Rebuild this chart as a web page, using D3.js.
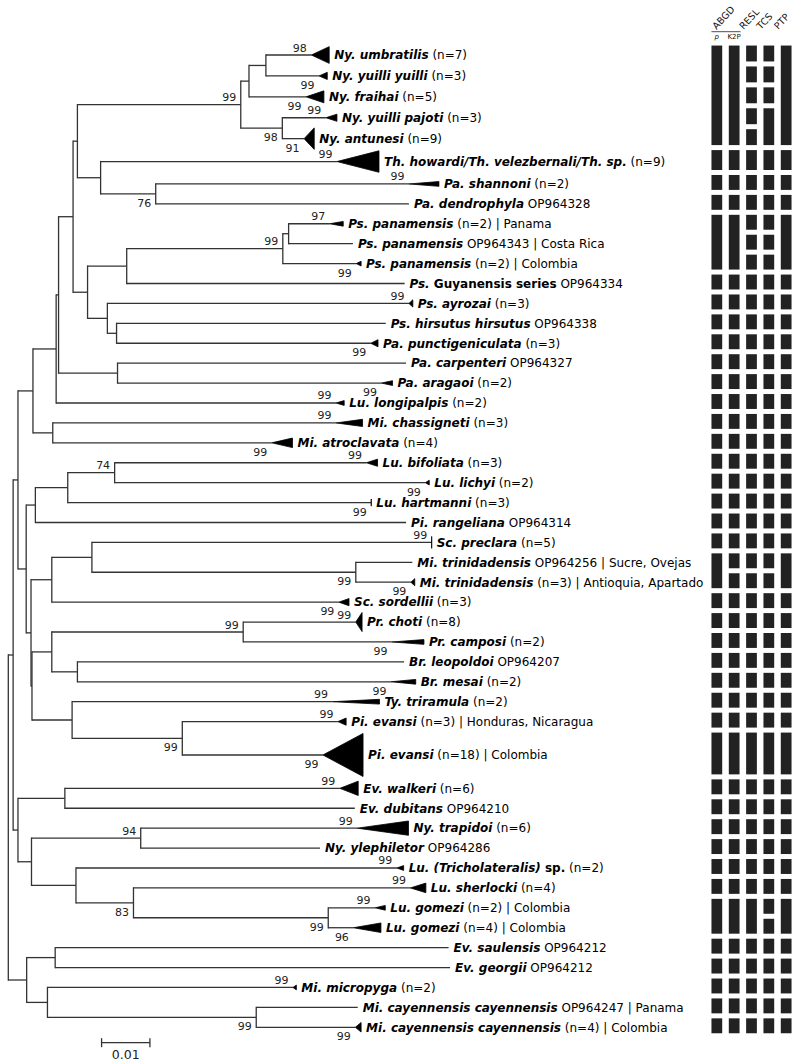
<!DOCTYPE html>
<html><head><meta charset="utf-8">
<script src="https://cdn.jsdelivr.net/npm/d3@7"></script>
<style>
body{margin:0;background:#fff}
svg{display:block;font-family:"DejaVu Sans",Verdana,sans-serif}
text{white-space:pre}
</style>
</head><body>
<script>
// ================= DATA =================
const tipIds = d3.range(1, 49).map(i => "t" + i);

// bold-italic part of each tip label
const tipTaxon = [
  "Ny. umbratilis","Ny. yuilli yuilli","Ny. fraihai","Ny. yuilli pajoti","Ny. antunesi",
  "Th. howardi/Th. velezbernali/Th. sp.","Pa. shannoni","Pa. dendrophyla",
  "Ps. panamensis","Ps. panamensis","Ps. panamensis","Ps.","Ps. ayrozai",
  "Ps. hirsutus hirsutus","Pa. punctigeniculata","Pa. carpenteri","Pa. aragaoi",
  "Lu. longipalpis","Mi. chassigneti","Mi. atroclavata","Lu. bifoliata","Lu. lichyi",
  "Lu. hartmanni","Pi. rangeliana","Sc. preclara","Mi. trinidadensis","Mi. trinidadensis",
  "Sc. sordellii","Pr. choti","Pr. camposi","Br. leopoldoi","Br. mesai","Ty. triramula",
  "Pi. evansi","Pi. evansi","Ev. walkeri","Ev. dubitans","Ny. trapidoi","Ny. ylephiletor",
  "Lu. (Tricholateralis)","Lu. sherlocki","Lu. gomezi","Lu. gomezi","Ev. saulensis",
  "Ev. georgii","Mi. micropyga","Mi. cayennensis cayennensis","Mi. cayennensis cayennensis"
];
// bold upright continuation
const tipBoldExtra = { t12: " Guyanensis series", t40: " sp." };
// number of sequences in the collapsed clade (1 = single sequence)
const tipN = [7,3,5,3,9,9,2,1,2,1,2,1,3,1,3,1,2,2,3,4,3,2,3,1,5,1,3,3,8,2,1,2,2,3,18,6,1,6,1,2,4,2,4,1,1,2,1,4];
const tipAccession = {
  t8:"OP964328", t10:"OP964343", t12:"OP964334", t14:"OP964338", t16:"OP964327",
  t24:"OP964314", t26:"OP964256", t31:"OP964207", t37:"OP964210", t39:"OP964286",
  t44:"OP964212", t45:"OP964212", t47:"OP964247"
};
const tipLocality = {
  t9:"Panama", t10:"Costa Rica", t11:"Colombia", t26:"Sucre, Ovejas",
  t27:"Antioquia, Apartado", t34:"Honduras, Nicaragua", t35:"Colombia",
  t42:"Colombia", t43:"Colombia", t47:"Panama", t48:"Colombia"
};
// depth (substitutions/site) of each collapsed clade
const tipCladeDepth = [
  .0037,.0017,.0037,.0023,.0021,.0087,.0062,0,.0028,0,.0010,0,.0008,0,.0015,0,.0023,.0017,
  .0055,.0043,.0023,.0008,0,0,0,0,.0008,.0021,.0013,.0066,0,.0051,.0097,.0017,.0083,.0038,
  0,.0106,0,.0014,.0032,.0021,.0057,0,0,.0007,0,.0012
];
// bootstrap support of collapsed clades
const tipSupport = [
  98,99,99,99,91,99,99,null,97,null,99,null,99,null,99,null,99,99,99,99,99,99,99,null,
  99,null,99,99,99,99,null,99,99,99,99,99,null,99,null,99,99,99,96,null,null,99,null,99
];
// tree: [child, parent, branch length]
const edges = [
  ["R",null,0],
  ["P","R",0.0010],["S","R",0.0038],
  ["O","P",0.0010],["Q","P",0.0010],
  ["N","O",0.0031],["T","O",0.0017],
  ["L","N",0.0048],["M","N",0.0041],
  ["J","L",0.0005],["t18","L",0.0579],
  ["H","J",0.0030],["K","J",0.0122],
  ["E","H",0.0009],["I","H",0.0030],
  ["C","E",0.0338],["F","E",0.0048],
  ["B","C",0.0017],["D","C",0.0086],
  ["A","B",0.0035],["t3","B",0.0118],
  ["t1","A",0.0094],["t2","A",0.0110],
  ["t4","D",0.0090],["t5","D",0.0045],
  ["t6","F",0.0489],["G","F",0.0114],
  ["t7","G",0.0524],["t8","G",0.0524],
  ["AC","I",0.0081],["AF","I",0.0041],
  ["AD","AC",0.0323],["t12","AC",0.0575],
  ["AE","AD",0.0012],["t11","AD",0.0152],
  ["t9","AE",0.0085],["t10","AE",0.0133],
  ["t13","AF",0.0624],["AG","AF",0.0019],
  ["t14","AG",0.0557],["t15","AG",0.0526],
  ["t16","K",0.0597],["t17","K",0.0546],
  ["t19","M",0.0586],["t20","M",0.0453],
  ["U","T",0.0019],["V","T",0.0010],
  ["AA","U",0.0067],["t24","U",0.0767],
  ["AB","AA",0.0097],["t23","AA",0.0628],
  ["t21","AB",0.0521],["t22","AB",0.0643],
  ["W","V",0.0043],["Z","V",0.0002],
  ["AH","W",0.0083],["t28","W",0.0594],
  ["t25","AH",0.0703],["AI","AH",0.0546],
  ["t26","AI",0.0117],["t27","AI",0.0114],
  ["X","Z",0.0041],["Y","Z",0.0083],
  ["AJ","X",0.0396],["AK","X",0.0053],
  ["t29","AJ",0.0233],["t30","AJ",0.0308],
  ["t31","AK",0.0676],["t32","AK",0.0649],
  ["t33","Y",0.0539],["AL","Y",0.0228],
  ["t34","AL",0.0322],["t35","AL",0.0291],
  ["AM","Q",0.0097],["AN","Q",0.0028],
  ["t36","AM",0.0569],["t37","AM",0.0600],
  ["AO","AN",0.0226],["AP","AN",0.0092],
  ["t38","AO",0.0448],["t39","AO",0.0371],
  ["t40","AP",0.0664],["AQ","AP",0.0119],
  ["t41","AQ",0.0573],["AR","AQ",0.0403],
  ["t42","AR",0.0097],["t43","AR",0.0052],
  ["AS","S",0.0059],["AT","S",0.0043],
  ["t44","AS",0.0814],["t45","AS",0.0817],
  ["t46","AT",0.0508],["AU","AT",0.0432],
  ["t47","AU",0.0210],["t48","AU",0.0205]
];
// bootstrap support of internal nodes
const nodeSupport = { C:99, D:98, G:76, AD:99, AB:74, AI:99, AJ:99, AL:99, AO:94, AQ:83, AR:99, AU:99 };
const supportAboveOverride = ["t18"];

// species delimitation methods and rows (1-based tip index) grouped together
const methods = ["ABGD p", "ABGD K2P", "RESL", "TCS", "PTP"];
const mergedRows = {
  "ABGD p":   [[1,5],[9,11],[26,27],[42,43]],
  "ABGD K2P": [[1,5],[9,11],[42,43]],
  "RESL":     [[42,43]],
  "TCS":      [[4,5]],
  "PTP":      [[1,5],[9,11],[26,27],[42,43]]
};
const headerLabels = ["ABGD", "RESL", "TCS", "PTP"];
const headerCols = [["ABGD p","ABGD K2P"],["RESL"],["TCS"],["PTP"]];
const subLabels = ["p", "K2P"];
const scaleBarValue = 0.01;

// ================= LAYOUT =================
const W = 797, H = 1064;
const svg = d3.select("body").append("svg").attr("width", W).attr("height", H);

const root = d3.stratify().id(d => d[0]).parentId(d => d[1])(edges);
root.eachBefore(n => { n.dist = n.parent ? n.parent.dist + n.data[2] : 0; });

const rowWeight = { t1:1.05, t2:1.05, t3:1.05, t4:1.05, t5:1.05, t6:1.25, t35:2.35 };
const wts = tipIds.map(id => rowWeight[id] || 1);
const cum = [0];
for (let i = 1; i < wts.length; i++) cum.push(cum[i-1] + (wts[i-1] + wts[i]) / 2);
const yScale = d3.scaleLinear().domain([0, cum[cum.length-1]]).range([55, 1027.3]);
const unit = (1027.3 - 55) / cum[cum.length-1];
const tipIndex = {}; tipIds.forEach((id, i) => tipIndex[id] = i);

root.eachAfter(n => {
  if (!n.children) n.y = yScale(cum[tipIndex[n.id]]);
  else n.y = (n.children[0].y + n.children[n.children.length-1].y) / 2;
});

const xScale = d3.scaleLinear().domain([0, 0.01]).range([8.3, 56.63]);
const triH = d3.scaleLinear().domain([0, 18]).range([0, 43]);

const lineCol = "#333";
const gTree = svg.append("g").attr("stroke", lineCol).attr("stroke-width", 1.3).attr("fill", "none");

// horizontal branches
root.descendants().filter(n => n.parent).forEach(n => {
  gTree.append("line")
    .attr("x1", xScale(n.parent.dist)).attr("x2", xScale(n.dist))
    .attr("y1", n.y).attr("y2", n.y);
});
// vertical connectors
root.descendants().filter(n => n.children).forEach(n => {
  gTree.append("line")
    .attr("x1", xScale(n.dist)).attr("x2", xScale(n.dist))
    .attr("y1", n.children[0].y - 0.65).attr("y2", n.children[n.children.length-1].y + 0.65);
});

// tips: triangles + labels
const gTips = svg.append("g");
root.leaves().forEach(n => {
  const i = tipIndex[n.id];
  const x0 = xScale(n.dist);
  const nseq = tipN[i];
  let xEnd = x0;
  if (nseq > 1) {
    const x1 = xScale(n.dist + tipCladeDepth[i]);
    const h = triH(nseq);
    gTips.append("path")
      .attr("d", `M${x0},${n.y}L${x1},${n.y - h/2}L${x1},${n.y + h/2}Z`)
      .attr("fill", "#000").attr("stroke", "#000").attr("stroke-width", 0.8)
      .attr("stroke-linejoin", "miter");
    xEnd = x1;
  }
  const t = gTips.append("text").attr("x", xEnd + 5).attr("y", n.y + 4.3)
    .attr("font-size", 12).attr("fill", "#000");
  t.append("tspan").attr("font-weight", "bold").attr("font-style", "italic").text(tipTaxon[i]);
  if (tipBoldExtra[n.id]) t.append("tspan").attr("font-weight", "bold").text(tipBoldExtra[n.id]);
  let note = nseq > 1 ? ` (n=${nseq})` : ` ${tipAccession[n.id]}`;
  if (tipLocality[n.id]) note += ` | ${tipLocality[n.id]}`;
  t.append("tspan").text(note);
});

// bootstrap support labels
const gSup = svg.append("g").attr("font-size", 11).attr("fill", "#222").attr("text-anchor", "end");
root.descendants().filter(n => n.parent).forEach(n => {
  const val = n.children ? nodeSupport[n.id] : tipSupport[tipIndex[n.id]];
  if (val == null) return;
  const above = n.parent.children.indexOf(n) === 0 || supportAboveOverride.includes(n.id);
  gSup.append("text")
    .attr("x", xScale(n.dist) - 4.5)
    .attr("y", above ? n.y - 3.5 : n.y + 13)
    .text(val);
});

// scale bar
const sbStart = 0.0193;
const sbY = 1042.7;
const gSb = svg.append("g").attr("stroke", lineCol).attr("stroke-width", 1.3);
gSb.append("line").attr("x1", xScale(sbStart)).attr("x2", xScale(sbStart + scaleBarValue)).attr("y1", sbY).attr("y2", sbY);
[sbStart, sbStart + scaleBarValue].forEach(v => gSb.append("line")
  .attr("x1", xScale(v)).attr("x2", xScale(v)).attr("y1", sbY - 4.5).attr("y2", sbY + 4.5));
svg.append("text").attr("x", xScale(sbStart + scaleBarValue/2)).attr("y", 1058.5)
  .attr("text-anchor", "middle").attr("font-size", 12.5).attr("fill", "#222").text(scaleBarValue.toFixed(2));

// ================= DELIMITATION BARS =================
const col = d3.scaleBand().domain(methods).range([708, 795]).paddingInner(0.38).paddingOuter(0.2);
const barY = i => yScale(cum[i]) - 1.5;
const barH = i => wts[i] * unit - 5;
const gBars = svg.append("g").attr("fill", "#222");
methods.forEach(m => {
  const spans = mergedRows[m];
  let r = 1;
  while (r <= tipIds.length) {
    const span = spans.find(s => s[0] === r);
    const first = r, last = span ? span[1] : r;
    const top = barY(first-1) - barH(first-1)/2;
    const bot = barY(last-1) + barH(last-1)/2;
    gBars.append("rect").attr("x", col(m)).attr("width", col.bandwidth())
      .attr("y", top).attr("height", bot - top);
    r = last + 1;
  }
});

// headers
headerLabels.forEach((lab, k) => {
  const cols = headerCols[k];
  const cx = d3.mean(cols, c => col(c) + col.bandwidth()/2);
  const sx = cx - (cols.length > 1 ? 9 : 8);
  svg.append("text").attr("transform", `translate(${sx},${30}) rotate(-47)`)
    .attr("font-size", 9.5).attr("fill", "#111").text(lab);
});
svg.append("line").attr("x1", col("ABGD p")).attr("x2", col("ABGD K2P") + col.bandwidth() + 1)
  .attr("y1", 31.7).attr("y2", 31.7).attr("stroke", "#222").attr("stroke-width", 0.8);
subLabels.forEach((s, k) => {
  svg.append("text").attr("x", col(methods[k]) + col.bandwidth()/2).attr("y", 39)
    .attr("text-anchor", "middle").attr("font-size", 7).attr("fill", "#111")
    .attr("font-style", k === 0 ? "italic" : "normal").text(s);
});
</script>
</body></html>
